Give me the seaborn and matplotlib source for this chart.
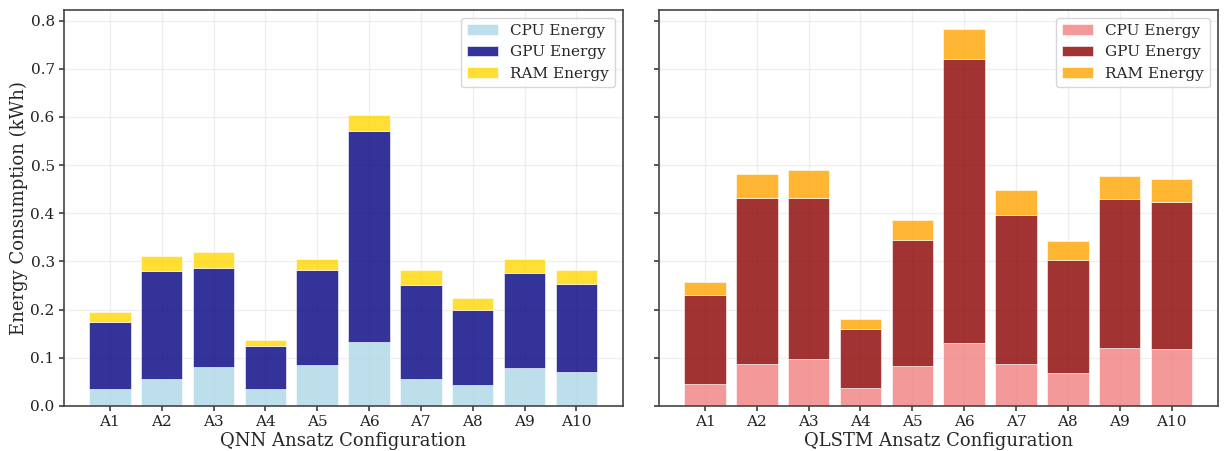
import numpy as np
import pandas as pd
import matplotlib
matplotlib.use("Agg")
import matplotlib.pyplot as plt
import seaborn as sns

configs = ["A1", "A2", "A3", "A4", "A5", "A6", "A7", "A8", "A9", "A10"]

qnn_cpu = [0.035, 0.055, 0.080, 0.035, 0.085, 0.132, 0.055, 0.044, 0.078, 0.071]
qnn_gpu = [0.139, 0.225, 0.207, 0.089, 0.198, 0.439, 0.195, 0.156, 0.197, 0.183]
qnn_ram = [0.020, 0.031, 0.032, 0.013, 0.021, 0.032, 0.032, 0.025, 0.030, 0.028]

qlstm_cpu = [0.046, 0.086, 0.097, 0.037, 0.082, 0.130, 0.088, 0.068, 0.120, 0.118]
qlstm_gpu = [0.185, 0.345, 0.334, 0.123, 0.262, 0.591, 0.308, 0.235, 0.309, 0.305]
qlstm_ram = [0.027, 0.050, 0.058, 0.020, 0.041, 0.062, 0.053, 0.040, 0.048, 0.047]

sns.set_theme(style="ticks")
plt.rcParams["font.family"] = ["DejaVu Serif"]
plt.rcParams["axes.edgecolor"] = "#444444"
plt.rcParams["axes.linewidth"] = 1.2
plt.rcParams["xtick.color"] = "#444444"
plt.rcParams["ytick.color"] = "#444444"
plt.rcParams["xtick.labelcolor"] = "#222222"
plt.rcParams["ytick.labelcolor"] = "#222222"
plt.rcParams["xtick.major.pad"] = 3.0
plt.rcParams["ytick.major.pad"] = 3.0
plt.rcParams["axes.labelpad"] = 2.0

fig, axes = plt.subplots(1, 2, figsize=(12.25, 4.51), dpi=100, sharey=True)
fig.subplots_adjust(left=0.052, right=0.994, top=0.978, bottom=0.1, wspace=0.065)


def stacked(ax, cpu, gpu, ram, colors, xlabel):
    df = pd.DataFrame({"config": configs, "cpu": cpu, "gpu": gpu, "ram": ram})
    bottoms = [np.zeros(len(df)), df["cpu"].values, (df["cpu"] + df["gpu"]).values]
    for col, bot, color, lab in zip(["cpu", "gpu", "ram"], bottoms, colors,
                                    ["CPU Energy", "GPU Energy", "RAM Energy"]):
        sns.barplot(data=df, x="config", y=col, ax=ax, color=color, saturation=1,
                    width=0.8, bottom=bot, alpha=0.8, label=lab,
                    edgecolor="white", linewidth=0.5, zorder=2)
    ax.set_xlim(-0.89, 9.89)
    ax.grid(True, alpha=0.3, zorder=0)
    ax.set_axisbelow(True)
    ax.set_xlabel(xlabel, fontsize=13)
    ax.set_ylabel("Energy Consumption (kWh)", fontsize=13)
    ax.tick_params(axis="both", labelsize=11, length=3.5)
    leg = ax.legend(loc="upper right", fontsize=11, frameon=True)
    leg.get_frame().set_edgecolor("#cccccc")
    for s in ax.spines.values():
        s.set_visible(True)


stacked(axes[0], qnn_cpu, qnn_gpu, qnn_ram, ["lightblue", "navy", "gold"],
        "QNN Ansatz Configuration")
stacked(axes[1], qlstm_cpu, qlstm_gpu, qlstm_ram, ["lightcoral", "darkred", "orange"],
        "QLSTM Ansatz Configuration")
axes[1].yaxis.set_tick_params(labelleft=False)
axes[0].set_ylim(0, 0.822)
axes[0].set_yticks([0.0, 0.1, 0.2, 0.3, 0.4, 0.5, 0.6, 0.7, 0.8])

fig.savefig("out.png", dpi=100)
